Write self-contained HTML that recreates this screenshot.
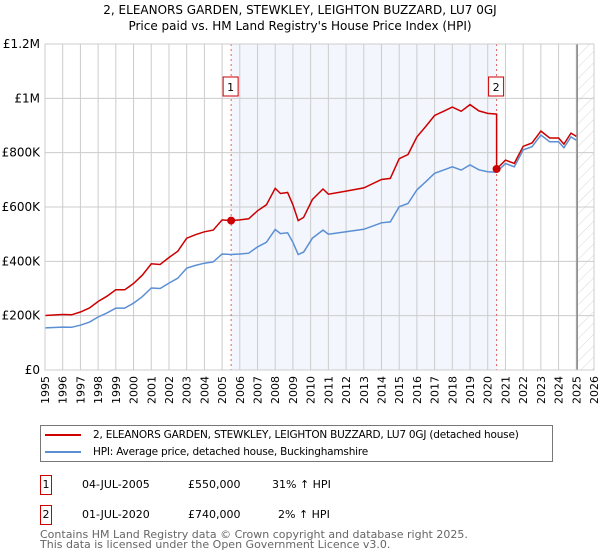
<!DOCTYPE html>
<html><head><meta charset="utf-8">
<style>
body{margin:0;background:#fff;font-family:"DejaVu Sans","Liberation Sans",sans-serif;}
#wrap{position:relative;width:600px;height:560px;overflow:hidden;}
.t{position:absolute;white-space:nowrap;color:#000;}
</style></head>
<body>
<div id="wrap">
<div class="t" style="left:0;width:600px;text-align:center;top:3px;font-size:12px;">2, ELEANORS GARDEN, STEWKLEY, LEIGHTON BUZZARD, LU7 0GJ</div>
<div class="t" style="left:0;width:600px;text-align:center;top:19px;font-size:12px;">Price paid vs. HM Land Registry's House Price Index (HPI)</div>
<svg id="chart" width="600" height="420" style="position:absolute;left:0;top:0" font-family="DejaVu Sans, Liberation Sans, sans-serif"></svg>

<div style="position:absolute;left:40px;top:425px;width:513px;height:37px;border:1px solid #777;box-sizing:border-box;">
 <div style="position:absolute;left:4px;top:3px;font-size:10.5px;white-space:nowrap;letter-spacing:-0.2px;"><span style="display:inline-block;width:36px;height:2px;background:#cc0000;vertical-align:middle;margin-right:12px;"></span>2, ELEANORS GARDEN, STEWKLEY, LEIGHTON BUZZARD, LU7 0GJ (detached house)</div>
 <div style="position:absolute;left:4px;top:20px;font-size:10.5px;white-space:nowrap;letter-spacing:-0.2px;"><span style="display:inline-block;width:36px;height:2px;background:#5b8fd4;vertical-align:middle;margin-right:12px;"></span>HPI: Average price, detached house, Buckinghamshire</div>
</div>

<div style="position:absolute;left:0;top:475px;font-size:11px;width:600px;">
 <span style="position:absolute;left:40px;top:0;width:10px;height:18px;border:1px solid #cc0000;text-align:center;line-height:18px;">1</span>
 <span class="t" style="left:82px;top:3px;">04-JUL-2005</span>
 <span class="t" style="left:188px;top:3px;">£550,000</span>
 <span class="t" style="left:272px;top:3px;">31% ↑ HPI</span>
</div>
<div style="position:absolute;left:0;top:505px;font-size:11px;width:600px;">
 <span style="position:absolute;left:40px;top:0;width:10px;height:18px;border:1px solid #cc0000;text-align:center;line-height:18px;">2</span>
 <span class="t" style="left:82px;top:3px;">01-JUL-2020</span>
 <span class="t" style="left:188px;top:3px;">£740,000</span>
 <span class="t" style="left:278px;top:3px;">2% ↑ HPI</span>
</div>
<div class="t" style="left:40px;top:530px;font-size:11px;color:#666;line-height:10px;">Contains HM Land Registry data © Crown copyright and database right 2025.<br>This data is licensed under the Open Government Licence v3.0.</div>
</div>
<script>
const hpiYears=[1995,1996,1996.5,1997,1997.5,1998,1998.5,1999,1999.5,2000,2000.5,2001,2001.5,2002,2002.5,2003,2003.5,2004,2004.5,2005,2005.5,2006,2006.5,2007,2007.5,2008,2008.3,2008.7,2009,2009.3,2009.6,2010.1,2010.7,2011,2012,2013,2014,2014.5,2015,2015.5,2016,2016.5,2017,2017.5,2018,2018.5,2019,2019.5,2020,2020.5,2021,2021.5,2022,2022.5,2023,2023.5,2024,2024.3,2024.7,2025];
const hpiValues=[155,158,157,165,176,195,210,228,228,246,270,302,300,320,338,375,385,393,398,427,425,427,430,453,470,517,502,505,470,425,434,485,515,500,509,518,542,545,601,613,663,693,724,736,748,736,755,737,730,728,760,748,810,822,865,840,840,818,858,846];
const saleYears=[2005.51,2020.5];
const salePrices=[550,740];
const yTicks=[0,200,400,600,800,1000,1200];
const yTickLabels=["£0","£200K","£400K","£600K","£800K","£1M","£1.2M"];
const xTickYears=[1995,1996,1997,1998,1999,2000,2001,2002,2003,2004,2005,2006,2007,2008,2009,2010,2011,2012,2013,2014,2015,2016,2017,2018,2019,2020,2021,2022,2023,2024,2025,2026];

const L=45,R=594,T=44,B=370;
const X=y=>L+(y-1995)/31*(R-L);
const Y=v=>B-v/1200*(B-T);
const svg=document.getElementById('chart');
const NS='http://www.w3.org/2000/svg';
function mk(tag,at,parent){const e=document.createElementNS(NS,tag);for(const k in at)e.setAttribute(k,at[k]);(parent||svg).appendChild(e);return e;}
function hpiAt(yr){for(let i=0;i<hpiYears.length-1;i++){if(yr>=hpiYears[i]&&yr<=hpiYears[i+1]){const f=(yr-hpiYears[i])/(hpiYears[i+1]-hpiYears[i]);return hpiValues[i]+f*(hpiValues[i+1]-hpiValues[i]);}}return hpiValues[hpiValues.length-1];}

const defs=mk('defs',{});
const pat=mk('pattern',{id:'hatch',width:8,height:8,patternUnits:'userSpaceOnUse',patternTransform:'rotate(45)'},defs);
mk('line',{x1:0,y1:0,x2:0,y2:8,stroke:'#d8d8d8','stroke-width':1},pat);

let e=mk('rect',{x:X(saleYears[0]),y:T,width:X(saleYears[1])-X(saleYears[0]),height:B-T,fill:'#f3f6fd'});


e=mk('rect',{x:X(2025.1),y:T,width:R-X(2025.1),height:B-T,fill:'url(#hatch)'});



xTickYears.forEach(yr=>{
  const g=mk('line',{x1:X(yr),x2:X(yr),y1:T,y2:B,stroke:'#cccccc','stroke-width':1});
  
  
  const t=mk('text',{x:0,y:0,'font-size':11,'text-anchor':'end',transform:`translate(${X(yr)+4},${B+6}) rotate(-90)`});
  t.textContent=yr;
  
  
});
yTicks.forEach((v,i)=>{
  const g=mk('line',{x1:L,x2:R,y1:Y(v),y2:Y(v),stroke:'#cccccc','stroke-width':1});
  
  
  const t=mk('text',{x:L-5,y:Y(v)+4,'font-size':12,'text-anchor':'end'});
  t.textContent=yTickLabels[i];
  
  
});
e=mk('line',{x1:X(2025.05),x2:X(2025.05),y1:T,y2:B,stroke:'#888','stroke-width':1.5});



saleYears.forEach((yr,i)=>{
  const l=mk('line',{x1:X(yr),x2:X(yr),y1:T,y2:B,stroke:'#e06060','stroke-width':1,'stroke-dasharray':'2,3'});
  
  
});

const hpiPts=hpiYears.map((yr,i)=>X(yr).toFixed(1)+','+Y(hpiValues[i]).toFixed(1)).join(' ');
e=mk('polyline',{points:hpiPts,fill:'none',stroke:'#5b8fd4','stroke-width':1.5});



const r0=salePrices[0]/hpiAt(saleYears[0]);
const r1=salePrices[1]/hpiAt(saleYears[1]);
const redPts=[];
hpiYears.forEach((yr,i)=>{
  if(yr<saleYears[1]){redPts.push([yr,hpiValues[i]*r0]);}
});
redPts.push([saleYears[1],hpiAt(saleYears[1])*r0]);
redPts.push([saleYears[1],salePrices[1]]);
hpiYears.forEach((yr,i)=>{if(yr>saleYears[1])redPts.push([yr,hpiValues[i]*r1]);});
e=mk('polyline',{points:redPts.map(p=>X(p[0]).toFixed(1)+','+Y(p[1]).toFixed(1)).join(' '),fill:'none',stroke:'#cc0000','stroke-width':1.5});



saleYears.forEach((yr,i)=>{
  const c=mk('circle',{cx:X(yr),cy:Y(salePrices[i]),r:4,fill:'#cc0000'});
  
  
  const b=mk('rect',{x:X(yr)-8,y:77,width:15,height:19,fill:'#fff',stroke:'#cc0000','stroke-width':1});
  
  
  const t=mk('text',{x:X(yr)-0.5,y:91,'font-size':11,'text-anchor':'middle'});
  t.textContent=String(i+1);
  
  
});
e=mk('rect',{x:L,y:T,width:R-L,height:B-T,fill:'none',stroke:'#cccccc','stroke-width':1});


</script>
</body></html>
